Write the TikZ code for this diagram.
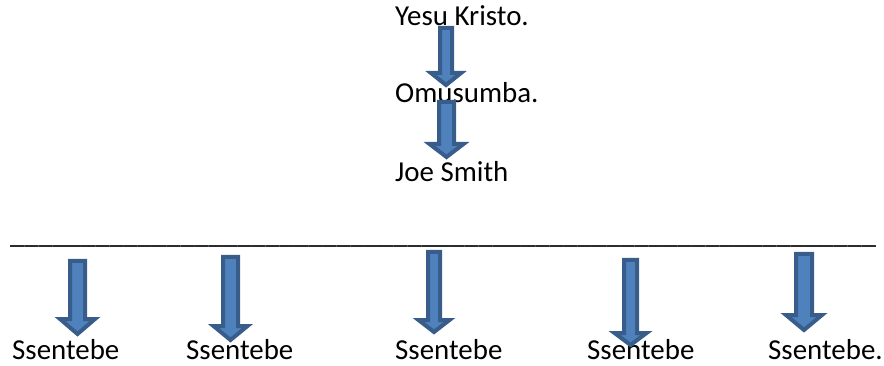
\documentclass[tikz,border=0pt]{standalone}
\usepackage{fontspec}
\setmainfont{Carlito}
\definecolor{arrfill}{HTML}{4F81BD}
\definecolor{arrline}{HTML}{385D8A}
\newcommand\blockarr[6]{%
 \draw[blockarrow] ({#1-#5+2},{#2+2}) -- ({#1+#5-2},{#2+2}) -- ({#1+#5-2},{#3+2}) -- ({#1+#6-2.5},{#3+2}) -- ({#1},{#4-3}) -- ({#1-#6+2.5},{#3+2}) -- ({#1-#5+2},{#3+2}) -- cycle;}
\newcommand\tenus{\_\_\_\_\_\_\_\_\_\_}
\begin{document}
\begin{tikzpicture}[x=1pt,y=-1pt,
  txt/.style={font=\fontsize{28.9}{34}\selectfont, inner sep=0pt, anchor=base west},
  blockarrow/.style={fill=arrfill, draw=arrline, line width=4pt, line join=miter}]
\useasboundingbox (0,0) rectangle (884,366);
% texts
\node[txt] (yesu) at (395,26) {Yesu Kristo.};
\node[txt] (omu) at (395,103) {Omusumba.};
\node[txt] (joe) at (395,182) {Joe Smith};
\node[txt, font=\fontsize{28.5}{34}\selectfont] (rule) at (10,243.5) {\tenus\tenus\tenus\tenus\tenus\tenus\_};
\node[txt] (s1) at (12,359) {Ssentebe};
\node[txt] (s2) at (186,359) {Ssentebe};
\node[txt] (s3) at (395,359) {Ssentebe};
\node[txt] (s4) at (587,359) {Ssentebe};
\node[txt] (s5) at (768,359) {Ssentebe.};
% block arrows
\blockarr{446}{26}{71}{88}{8}{17.5}
\blockarr{446.5}{100}{142}{160}{9.5}{19.5}
\blockarr{77.5}{259}{317}{337}{9.5}{20}
\blockarr{230.5}{255}{324}{343}{9.5}{19.5}
\blockarr{434}{250}{318}{335}{8}{18}
\blockarr{630.5}{258}{331}{348}{8.5}{18.5}
\blockarr{804}{252}{313}{333}{10}{20.5}
\end{tikzpicture}
\end{document}
